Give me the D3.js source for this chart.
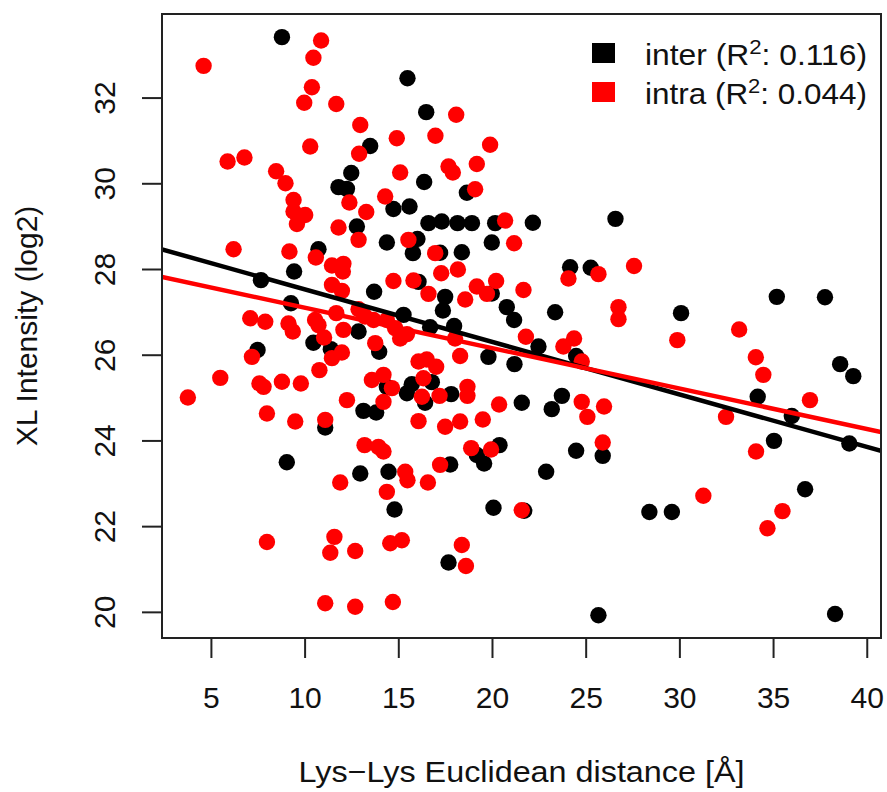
<!DOCTYPE html>
<html>
<head>
<meta charset="utf-8">
<script src="https://cdn.jsdelivr.net/npm/d3@7/dist/d3.min.js"></script>
<style>
  html, body { margin: 0; padding: 0; background: #fff; }
  svg { display: block; font-family: "Liberation Sans", Arial, Helvetica, sans-serif; }
</style>
</head>
<body>
<svg id="chart" width="887" height="792"></svg>
<script>
// Inter-protein cross-links: Lys-Lys distance (Å) and log2 intensity
const interDist = [
  8.79, 12.49, 11.81, 12.26, 13.50, 14.74, 12.79, 15.49, 16.49, 16.38,
  18.66, 15.60, 16.61, 17.32, 18.16, 18.93, 20.17, 22.18, 26.59, 7.67,
  10.74, 9.44, 13.71, 14.39, 9.27, 12.88, 10.47, 11.40, 7.49, 13.98,
  14.39, 13.14, 13.82, 11.10, 15.46, 16.02, 15.78, 17.23, 18.39, 19.99,
  16.08, 17.50, 17.38, 19.99, 24.17, 25.27, 20.79, 21.18, 23.37, 15.28,
  16.70, 17.98, 22.48, 24.49, 19.81, 21.20, 16.79, 15.72, 16.43, 17.82,
  21.59, 23.73, 23.19, 30.09, 35.20, 37.77, 38.58, 39.28, 34.18, 36.00,
  35.05, 39.07, 36.71, 28.40, 29.60, 38.31, 20.40, 19.19, 19.58, 17.77,
  14.48, 14.80, 20.08, 21.72, 22.89, 24.49, 25.91, 17.68, 25.68, 9.05,
  12.97
];
const interIntensity = [
  33.41, 30.24, 29.91, 29.87, 30.87, 29.40, 28.99, 32.45, 31.66, 30.03,
  29.78, 29.46, 29.07, 29.11, 29.07, 29.07, 29.07, 29.08, 29.17, 27.74,
  28.46, 27.94, 27.47, 28.62, 27.20, 26.54, 26.28, 26.13, 26.11, 26.07,
  25.25, 24.69, 24.65, 24.30, 25.10, 28.70, 28.37, 28.38, 28.39, 28.62,
  27.70, 27.35, 27.03, 27.43, 28.04, 28.03, 27.11, 26.81, 26.99, 26.93,
  26.64, 26.67, 26.19, 25.97, 25.95, 25.78, 25.36, 25.31, 24.88, 25.08,
  24.88, 25.04, 24.73, 26.97, 27.35, 27.34, 25.78, 25.50, 25.02, 24.57,
  23.99, 23.93, 22.86, 22.33, 22.33, 19.95, 23.89, 23.66, 23.46, 23.44,
  23.27, 22.39, 22.43, 22.36, 23.27, 23.76, 23.64, 21.15, 19.92, 23.49,
  23.23
];

// Intra-protein cross-links
const intraDist = [
  10.88, 10.47, 4.61, 10.39, 9.98, 11.69, 12.97, 10.30, 12.91, 5.89,
  6.79, 8.48, 8.98, 9.41, 12.39, 14.30, 13.29, 9.41, 10.03, 9.59,
  11.81, 14.92, 15.10, 18.09, 16.98, 19.90, 17.68, 17.91, 19.19, 19.10,
  20.70, 6.21, 9.19, 10.60, 11.46, 12.07, 12.04, 11.46, 11.99, 12.88,
  14.74, 7.10, 7.90, 9.14, 9.37, 10.56, 10.74, 11.69, 12.07, 12.88,
  13.23, 13.68, 14.39, 14.83, 11.04, 11.99, 11.46, 7.19, 13.77, 10.79,
  5.50, 7.59, 7.81, 8.79, 9.80, 3.77, 12.26, 13.59, 14.21, 14.66,
  14.21, 7.99, 9.50, 11.10, 15.54, 16.97, 21.18, 17.29, 18.18, 15.81,
  16.61, 18.57, 19.19, 19.73, 20.22, 21.68, 24.08, 25.68, 26.75, 26.75,
  15.46, 15.10, 18.03, 21.81, 23.81, 24.38, 24.79, 18.30, 16.08, 16.52,
  17.02, 16.34, 16.26, 17.20, 18.69, 18.69, 20.38, 24.79, 25.09, 25.98,
  16.08, 17.50, 18.30, 19.51, 27.58, 29.89, 33.19, 34.08, 34.48, 36.97,
  32.49, 34.09, 31.28, 35.50, 34.70, 18.89, 19.95, 17.23, 15.37, 15.49,
  16.58, 14.39, 21.59, 25.91, 14.57, 15.19, 18.39, 18.61, 14.71, 13.20,
  13.94, 14.21, 11.90, 7.99, 11.59, 11.37, 12.70, 11.10, 12.70
];
const intraIntensity = [
  33.33, 32.93, 32.74, 32.24, 31.88, 31.85, 31.36, 30.86, 30.69, 30.51,
  30.60, 30.28, 30.00, 29.61, 29.55, 29.69, 29.33, 29.34, 29.26, 29.05,
  28.97, 31.05, 30.25, 31.60, 31.11, 30.90, 30.39, 30.25, 30.45, 29.86,
  29.13, 28.46, 28.41, 28.27, 28.08, 28.12, 27.94, 27.63, 27.49, 28.68,
  27.72, 26.85, 26.77, 26.73, 26.54, 26.81, 26.69, 26.97, 26.58, 27.06,
  26.89, 26.81, 26.81, 26.62, 26.40, 26.05, 25.92, 25.95, 26.27, 25.64,
  25.46, 25.33, 25.25, 25.37, 25.33, 25.00, 24.94, 25.41, 25.53, 25.22,
  24.90, 24.63, 24.44, 24.48, 28.68, 28.37, 28.60, 27.90, 27.99, 27.73,
  27.42, 27.29, 27.59, 27.42, 27.72, 27.51, 27.78, 27.88, 27.11, 26.83,
  26.48, 26.38, 26.38, 26.42, 26.19, 26.38, 25.84, 25.97, 25.84, 25.89,
  25.72, 25.45, 25.02, 25.04, 25.25, 25.04, 24.84, 24.90, 24.55, 24.79,
  24.45, 24.32, 24.44, 24.49, 28.07, 26.34, 26.59, 25.94, 25.53, 24.94,
  24.55, 23.74, 22.71, 22.35, 21.95, 23.82, 23.79, 23.43, 23.27, 23.07,
  23.02, 22.80, 22.37, 23.95, 21.60, 21.67, 21.56, 21.07, 20.23, 23.89,
  23.85, 23.74, 23.02, 21.63, 21.75, 21.38, 21.42, 20.20, 20.12
];

// Fitted linear models: intensity = intercept + slope * distance
const interFit = { intercept: 28.75, slope: -0.1225, r2: "0.116" };
const intraFit = { intercept: 28.04, slope: -0.0943, r2: "0.044" };

// Axis settings
const xDomain = [2.39, 40.76];
const yDomain = [19.39, 33.95];
const xTicks = [5, 10, 15, 20, 25, 30, 35, 40];
const yTicks = [20, 22, 24, 26, 28, 30, 32];

const seriesNames = ["inter", "intra"];
const seriesColors = ["#000000", "#ff0000"];

const plot = { left: 162, right: 881, top: 14, bottom: 638 };
const svg = d3.select("#chart");

const x = d3.scaleLinear().domain(xDomain).range([plot.left, plot.right]);
const y = d3.scaleLinear().domain(yDomain).range([plot.bottom, plot.top]);

const fontSize = 30;
const ink = "#111";

const series = [
  { name: seriesNames[0], color: seriesColors[0], xs: interDist, ys: interIntensity, fit: interFit },
  { name: seriesNames[1], color: seriesColors[1], xs: intraDist, ys: intraIntensity, fit: intraFit }
];

svg.append("clipPath").attr("id", "plotclip")
  .append("rect")
  .attr("x", plot.left).attr("y", plot.top)
  .attr("width", plot.right - plot.left).attr("height", plot.bottom - plot.top);

// Points
const pts = svg.append("g").attr("clip-path", "url(#plotclip)");
series.forEach(s => {
  pts.append("g").selectAll("circle")
    .data(s.xs.map((d, i) => [d, s.ys[i]]))
    .join("circle")
    .attr("cx", d => x(d[0]))
    .attr("cy", d => y(d[1]))
    .attr("r", 8.2)
    .attr("fill", s.color);
});

// Regression lines across the plotting region
const lines = svg.append("g").attr("clip-path", "url(#plotclip)");
series.forEach(s => {
  const f = xv => s.fit.intercept + s.fit.slope * xv;
  lines.append("line")
    .attr("x1", x(xDomain[0])).attr("y1", y(f(xDomain[0])))
    .attr("x2", x(xDomain[1])).attr("y2", y(f(xDomain[1])))
    .attr("stroke", s.color)
    .attr("stroke-width", 4.5);
});

// Box around the plot
svg.append("rect")
  .attr("x", plot.left).attr("y", plot.top)
  .attr("width", plot.right - plot.left).attr("height", plot.bottom - plot.top)
  .attr("fill", "none").attr("stroke", "#222").attr("stroke-width", 2);

// X axis
const xAxis = svg.append("g")
  .attr("transform", `translate(0,${plot.bottom})`)
  .call(d3.axisBottom(x).tickValues(xTicks).tickSize(20).tickFormat(d3.format("d")));
xAxis.select(".domain").remove();
xAxis.selectAll(".tick line").attr("stroke", "#222").attr("stroke-width", 2);
xAxis.selectAll(".tick text")
  .attr("y", 70).attr("dy", null)
  .attr("fill", ink)
  .style("font-size", fontSize + "px")
  .style("font-family", "'Liberation Sans', Arial, sans-serif");

// Y axis with rotated labels
const yAxis = svg.append("g")
  .attr("transform", `translate(${plot.left},0)`)
  .call(d3.axisLeft(y).tickValues(yTicks).tickSize(20).tickFormat(d3.format("d")));
yAxis.select(".domain").remove();
yAxis.selectAll(".tick line").attr("stroke", "#222").attr("stroke-width", 2);
yAxis.selectAll(".tick text")
  .attr("transform", "rotate(-90)")
  .attr("x", 0).attr("y", -47).attr("dy", null)
  .attr("text-anchor", "middle")
  .attr("fill", ink)
  .style("font-size", fontSize + "px")
  .style("font-family", "'Liberation Sans', Arial, sans-serif");

// Axis titles
svg.append("text")
  .attr("x", (plot.left + plot.right) / 2)
  .attr("y", 782)
  .attr("text-anchor", "middle")
  .attr("textLength", 446)
  .attr("lengthAdjust", "spacingAndGlyphs")
  .attr("fill", ink)
  .style("font-size", fontSize + "px")
  .text("Lys\u2212Lys Euclidean distance [\u00C5]");

svg.append("text")
  .attr("transform", `translate(36.5,${(plot.top + plot.bottom) / 2}) rotate(-90)`)
  .attr("text-anchor", "middle")
  .attr("fill", ink)
  .style("font-size", fontSize + "px")
  .text("XL Intensity (log2)");

// Legend
const legend = svg.append("g");
series.forEach((s, i) => {
  const base = 64.5 + i * 39;
  legend.append("rect")
    .attr("x", 592).attr("y", base - 21.5)
    .attr("width", 23).attr("height", 20)
    .attr("fill", s.color);
  const t = legend.append("text")
    .attr("x", 645).attr("y", base)
    .attr("textLength", 222)
    .attr("lengthAdjust", "spacingAndGlyphs")
    .attr("fill", ink)
    .style("font-size", fontSize + "px");
  t.append("tspan").text(`${s.name} (R`);
  t.append("tspan").attr("dy", -11).style("font-size", "21px").text("2");
  t.append("tspan").attr("dy", 11).text(`: ${s.fit.r2})`);
});
</script>
</body>
</html>
